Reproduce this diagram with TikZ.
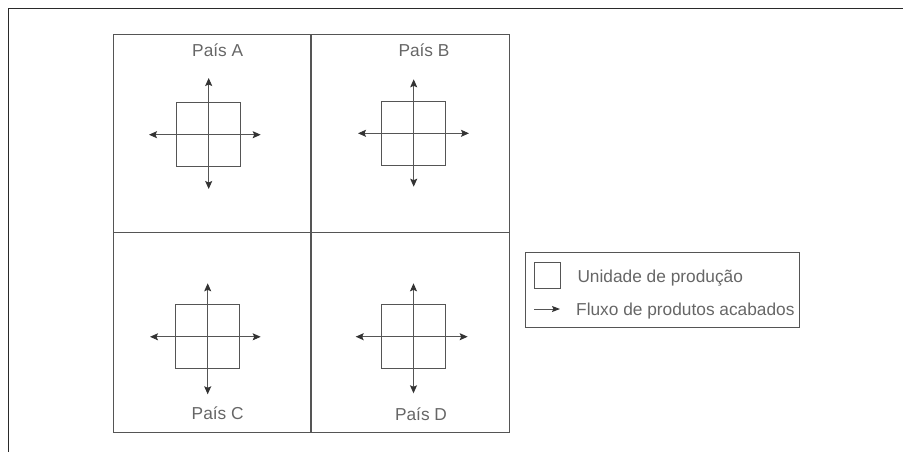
\documentclass[tikz,border=0pt]{standalone}
\usepackage{fontspec}
\setmainfont{Liberation Sans}
\usetikzlibrary{arrows.meta}
\definecolor{frame}{HTML}{2A2A2A}
\definecolor{ink}{HTML}{555555}
\definecolor{tip}{HTML}{333333}
\definecolor{txt}{HTML}{666666}
\tikzset{
  outerline/.style={draw=frame, line width=1.9pt},
  gridline/.style={draw=ink, line width=1.1pt},
  unitbox/.style={draw=ink, line width=0.8pt, minimum width=64pt, minimum height=64pt, inner sep=0pt},
  legendunit/.style={draw=ink, line width=0.8pt, minimum width=26pt, minimum height=26pt, inner sep=0pt},
  flow/.style={draw=ink, line width=0.9pt, {Stealth[length=8pt,width=7pt,inset=1.5pt,color=tip]}-{Stealth[length=8pt,width=7pt,inset=1.5pt,color=tip]}},
  flowone/.style={draw=ink, line width=0.9pt, -{Stealth[length=8pt,width=6pt,inset=1.5pt,color=tip]}},
  lbl/.style={font=\fontsize{17.3}{20}\selectfont, text=txt, inner sep=0pt, anchor=base},
  lgd/.style={font=\fontsize{17.3}{20}\selectfont, text=txt, inner sep=0pt, anchor=base west}
}
\begin{document}
\begin{tikzpicture}[x=1pt,y=-1pt]
\useasboundingbox (0,0) rectangle (903,451);
% outer frame (only top and left edges visible)
\draw[outerline] (8.5,460) -- (8.5,8.5) -- (910,8.5);
% grid of countries
\node[gridline, minimum width=395.5pt, minimum height=397.5pt, inner sep=0pt, anchor=north west] (grid) at (113,34) {};
\coordinate (gT) at (311,34);
\coordinate (gB) at (311,431.5);
\coordinate (gL) at (113,232.3);
\coordinate (gR) at (508.5,232.3);
\draw[gridline] (gT) -- (gB);
\draw[gridline] (gL) -- (gR);
% Country A
\node[unitbox] (uA) at (208.7,134.7) {};
\coordinate (aN) at (208.7,78); \coordinate (aS) at (208.7,189);
\coordinate (aW) at (149,134.7); \coordinate (aE) at (260.7,134.7);
\draw[flow] (aS) -- (aN);
\draw[flow] (aW) -- (aE);
\node[lbl] (tA) at (217.7,56.7) {País A};
% Country B
\node[unitbox] (uB) at (413.7,133.3) {};
\coordinate (bN) at (413.7,79.3); \coordinate (bS) at (413.7,186.7);
\coordinate (bW) at (358,133.3); \coordinate (bE) at (469,133.3);
\draw[flow] (bS) -- (bN);
\draw[flow] (bW) -- (bE);
\node[lbl] (tB) at (424,56.7) {País B};
% Country C
\node[unitbox] (uC) at (207.7,336.8) {};
\coordinate (cN) at (207.7,283.3); \coordinate (cS) at (207.7,394.3);
\coordinate (cW) at (150,336.8); \coordinate (cE) at (260.7,336.8);
\draw[flow] (cS) -- (cN);
\draw[flow] (cW) -- (cE);
\node[lbl] (tC) at (217.7,419.5) {País C};
% Country D
\node[unitbox] (uD) at (413.5,336.7) {};
\coordinate (dN) at (413.5,283.3); \coordinate (dS) at (413.5,393.3);
\coordinate (dW) at (355.7,336.7); \coordinate (dE) at (467.7,336.7);
\draw[flow] (dS) -- (dN);
\draw[flow] (dW) -- (dE);
\node[lbl] (tD) at (421,420.5) {País D};
% Legend
\node[draw=ink, line width=0.8pt, minimum width=273.7pt, minimum height=75.6pt, inner sep=0pt, anchor=north west] (legend) at (525,251.7) {};
\node[legendunit] (lu) at (547.2,275) {};
\node[lgd] (lut) at (577.3,282.7) {Unidade de produção};
\coordinate (lfs) at (534.3,309);
\coordinate (lfe) at (560,309);
\draw[flowone] (lfs) -- (lfe);
\node[lgd] (lft) at (576,315) {Fluxo de produtos acabados};
\end{tikzpicture}
\end{document}
